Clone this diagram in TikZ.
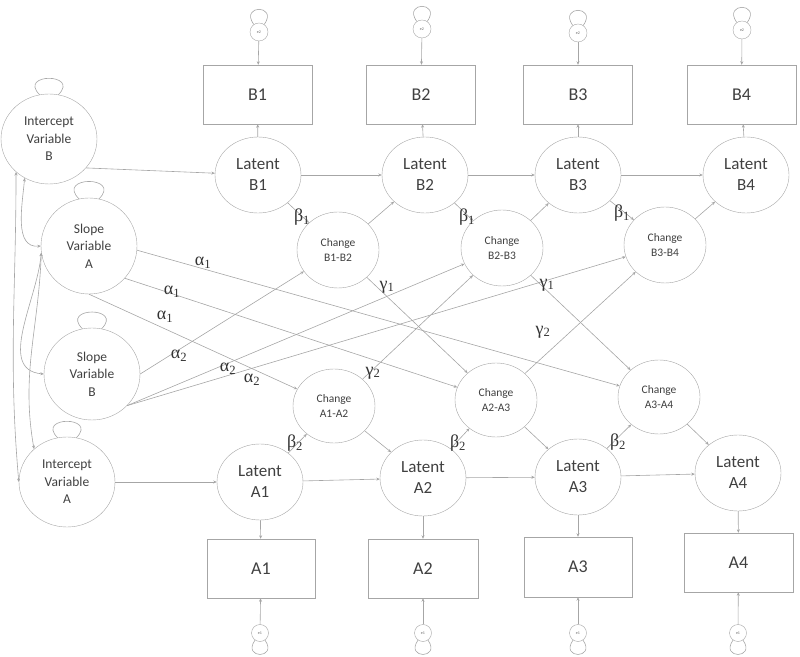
\documentclass[tikz,border=0pt]{standalone}
\usepackage{fontspec}
\setmainfont{Carlito}
\newfontfamily\greekfont{Liberation Serif}
\usetikzlibrary{arrows.meta,shapes.geometric,positioning}

\begin{document}
\begin{tikzpicture}[x=1pt, y=1pt,
    latent/.style={ellipse, draw=black!35, minimum width=86, minimum height=76, align=center, text=black!75, font=\fontsize{17}{21}\selectfont},
    factor/.style={ellipse, draw=black!35, minimum width=96, minimum height=90, align=center, text=black!75, font=\fontsize{13.5}{17.5}\selectfont},
    change/.style={ellipse, draw=black!35, minimum width=82, minimum height=76, align=center, text=black!75, font=\fontsize{11.5}{15}\selectfont},
    observed/.style={rectangle, draw=black!35, minimum width=109, minimum height=59, text=black!75, font=\fontsize{18}{20}\selectfont},
    resid/.style={circle, draw=black!35, minimum size=18, inner sep=0pt, text=black!60, font=\fontsize{4}{4}\selectfont},
    effect/.style={draw=black!35, line width=0.6pt, -{Stealth[length=3.5pt,width=3pt]}},
    covar/.style={draw=black!35, line width=0.6pt, {Stealth[length=3.5pt,width=3pt]}-{Stealth[length=3.5pt,width=3pt]}},
    selfloop/.style={draw=black!35, line width=0.6pt, looseness=4.2},
    coef/.style={text=black!80, font=\greekfont\fontsize{18}{18}\selectfont}]

    \useasboundingbox (0,0) rectangle (800,656);

    % left-hand growth factors
    \node (intB) [factor] at (49,517) {Intercept\\Variable\\B};
    \node (slpA) [factor, minimum height=96] at (89,410) {Slope\\Variable\\A};
    \node (slpB) [factor, minimum height=92] at (92,282) {Slope\\Variable\\B};
    \node (intA) [factor] at (67,174) {Intercept\\Variable\\A};

    % B row
    \node (eB1) [resid] at (259,624) {e2};
    \node (eB2) [resid] at (422,627) {e2};
    \node (eB3) [resid] at (578,623) {e2};
    \node (eB4) [resid] at (742,626) {e2};
    \node (obsB1) [observed] at (257.5,561.5) {B1};
    \node (obsB2) [observed] at (421,561.5) {B2};
    \node (obsB3) [observed] at (578,561.5) {B3};
    \node (obsB4) [observed] at (741.5,561.5) {B4};
    \node (latB1) [latent] at (258,481) {Latent\\B1};
    \node (latB2) [latent] at (425,481) {Latent\\B2};
    \node (latB3) [latent] at (578,481) {Latent\\B3};
    \node (latB4) [latent] at (746,481) {Latent\\B4};
    \node (chgB12) [change] at (338,406) {Change\\B1-B2};
    \node (chgB23) [change] at (502,408) {Change\\B2-B3};
    \node (chgB34) [change] at (665,411) {Change\\B3-B4};

    % A row
    \node (chgA12) [change, minimum height=74] at (334,250) {Change\\A1-A2};
    \node (chgA23) [change, minimum height=74] at (496,256) {Change\\A2-A3};
    \node (chgA34) [change, minimum height=74] at (659,259) {Change\\A3-A4};
    \node (latA1) [latent] at (260,174) {Latent\\A1};
    \node (latA2) [latent] at (423,178) {Latent\\A2};
    \node (latA3) [latent] at (578,179) {Latent\\A3};
    \node (latA4) [latent] at (738,183) {Latent\\A4};
    \node (obsA1) [observed, minimum width=108] at (261,87.5) {A1};
    \node (obsA2) [observed, minimum width=110] at (423,87.5) {A2};
    \node (obsA3) [observed, minimum width=108, minimum height=60] at (578,89) {A3};
    \node (obsA4) [observed] at (738.5,93.5) {A4};
    \node (eA1) [resid, minimum size=17] at (260,23) {e1};
    \node (eA2) [resid, minimum size=17] at (423,23) {e1};
    \node (eA3) [resid, minimum size=17] at (578,23) {e1};
    \node (eA4) [resid, minimum size=17] at (738,23) {e1};

    % variances
    \foreach \n in {intB, slpA, slpB, intA}
        \draw[selfloop] (\n.102) to[out=135, in=45] (\n.78);
    \foreach \n in {eB1, eB2, eB3, eB4}
        \draw[selfloop] (\n.125) to[out=125, in=55, looseness=6] (\n.55);
    \foreach \n in {eA1, eA2, eA3, eA4}
        \draw[selfloop] (\n.-125) to[out=-125, in=-55, looseness=6] (\n.-55);

    % measurement part
    \foreach \i in {1,2,3,4} {
        \draw[effect] (eB\i) -- (obsB\i);
        \draw[effect] (latB\i) -- (obsB\i);
        \draw[effect] (latA\i) -- (obsA\i);
        \draw[effect] (eA\i) -- (obsA\i);
    }

    % autoregressive chains
    \draw[effect] (intB.-38) -- (latB1);
    \draw[effect] (latB1) -- (latB2);
    \draw[effect] (latB2) -- (latB3);
    \draw[effect] (latB3) -- (latB4);
    \draw[effect] (intA) -- (latA1);
    \draw[effect] (latA1) -- (latA2);
    \draw[effect] (latA2) -- (latA3);
    \draw[effect] (latA3) -- (latA4);

    % change scores
    \draw[effect] (latB1) -- (chgB12);
    \draw[effect] (chgB12) -- (latB2);
    \draw[effect] (latB2) -- (chgB23);
    \draw[effect] (chgB23) -- (latB3);
    \draw[effect] (latB3) -- (chgB34);
    \draw[effect] (chgB34) -- (latB4);
    \draw[effect] (latA1) -- (chgA12);
    \draw[effect] (chgA12) -- (latA2);
    \draw[effect] (latA2) -- (chgA23);
    \draw[effect] (chgA23) -- (latA3);
    \draw[effect] (latA3) -- (chgA34);
    \draw[effect] (chgA34) -- (latA4);

    % slopes to changes
    \draw[effect] (slpA.-5) -- (chgA34);
    \draw[effect] (slpA.-42) -- (chgA23);
    \draw[effect] (slpA.-90) -- (chgA12);
    \draw[effect] (slpB.east) -- (chgB12);
    \draw[effect] (slpB.-42) -- (chgB23);
    \draw[effect] (slpB.-42) -- (chgB34);

    % coupling
    \draw[effect] (chgB12) -- (chgA23);
    \draw[effect] (chgB23) -- (chgA34);
    \draw[effect] (chgA12) -- (chgB23);
    \draw[effect] (chgA23) -- (chgB34);

    % covariances
    \draw[covar] (intB.-135) to[out=-90, in=95] (intA.west);
    \draw[covar] (intB.-122) to[out=-95, in=185] (slpA.west);
    \draw[covar] (slpA.188) to[out=-95, in=175] (slpB.west);
    \draw[covar] (slpA.188) to[out=-92, in=100] (intA.135);

    % path coefficients
    \node (b1a) [coef] at (302,439) {β\textsubscript{1}};
    \node (b1b) [coef] at (467,439) {β\textsubscript{1}};
    \node (b1c) [coef] at (622,443) {β\textsubscript{1}};
    \node (b2a) [coef] at (295,213) {β\textsubscript{2}};
    \node (b2b) [coef] at (458,213) {β\textsubscript{2}};
    \node (b2c) [coef] at (618,214) {β\textsubscript{2}};
    \node (a1a) [coef] at (203,393) {α\textsubscript{1}};
    \node (a1b) [coef] at (172,364) {α\textsubscript{1}};
    \node (a1c) [coef] at (165,339) {α\textsubscript{1}};
    \node (a2a) [coef] at (179,300) {α\textsubscript{2}};
    \node (a2b) [coef] at (228,287) {α\textsubscript{2}};
    \node (a2c) [coef] at (252,276) {α\textsubscript{2}};
    \node (g1a) [coef] at (387,369) {γ\textsubscript{1}};
    \node (g1b) [coef] at (547,371) {γ\textsubscript{1}};
    \node (g2a) [coef] at (373,283) {γ\textsubscript{2}};
    \node (g2b) [coef] at (543,324) {γ\textsubscript{2}};
\end{tikzpicture}
\end{document}
